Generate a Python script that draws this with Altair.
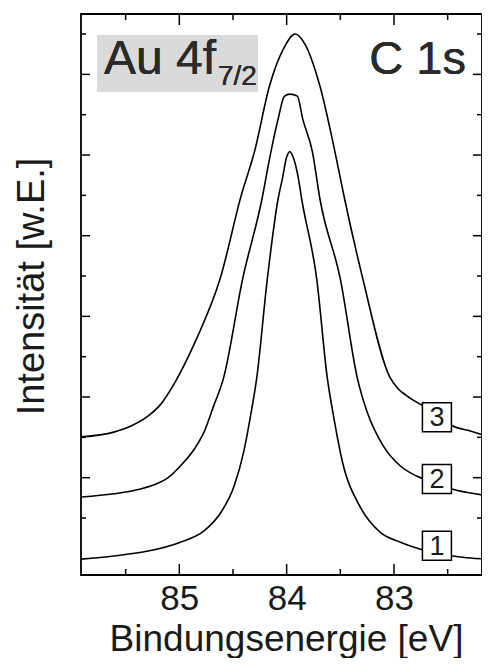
import altair as alt
import pandas as pd

# ---- data (binding energy in eV, intensity in arbitrary units) ----
c1_ev = [85.92, 85.61, 85.29, 84.99, 84.77, 84.61, 84.49, 84.40, 84.33, 84.28, 84.18, 84.08, 84.04, 84.00,
         83.97, 83.94, 83.89, 83.86, 83.72, 83.62, 83.57, 83.48, 83.32, 83.13, 82.94, 82.76, 82.60, 82.45, 82.29, 82.11]
c1_int = [-0.02, 0.06, 0.18, 0.40, 0.68, 1.15, 1.79, 2.64, 3.63, 4.45, 6.93, 8.91, 9.41, 9.95,
          10.08, 9.95, 9.41, 8.91, 6.93, 4.45, 3.63, 2.39, 1.30, 0.65, 0.40, 0.23, 0.12, 0.06, 0.01, -0.02]

c2_ev = [85.92, 85.61, 85.36, 85.20, 85.11, 84.99, 84.86, 84.77, 84.68, 84.59, 84.41, 84.23, 84.16, 84.08,
         84.02, 83.97, 83.90, 83.85, 83.76, 83.69, 83.50, 83.34, 83.25, 83.10, 82.94, 82.79, 82.60, 82.46, 82.29, 82.11]
c2_int = [1.52, 1.60, 1.72, 1.86, 1.99, 2.29, 2.71, 3.13, 3.78, 4.45, 6.93, 8.91, 9.90, 10.89,
          11.46, 11.51, 11.46, 10.89, 10.08, 8.91, 6.93, 4.45, 3.63, 2.79, 2.29, 2.04, 1.87, 1.72, 1.62, 1.55]

c3_ev = [85.92, 85.61, 85.45, 85.29, 85.17, 85.05, 84.84, 84.62, 84.42, 84.30, 84.16, 84.03, 83.92,
         83.83, 83.69, 83.55, 83.46, 83.29, 83.04, 82.96, 82.88, 82.73, 82.60, 82.45, 82.29, 82.11]
c3_int = [3.01, 3.13, 3.28, 3.53, 3.83, 4.32, 5.44, 6.93, 9.03, 10.08, 11.71, 12.63, 13.00,
          12.75, 11.71, 10.08, 8.91, 6.93, 4.50, 4.20, 4.03, 3.78, 3.58, 3.28, 3.16, 3.01]

label_names = ["1", "2", "3"]
label_ev = [82.60, 82.60, 82.60]
label_int = [0.31, 1.97, 3.50]

x_major = [83, 84, 85]
x_minor = [82.5, 83.5, 84.5, 85.5]
y_major = [2, 4, 6, 8, 10, 12]
y_minor = [1, 3, 5, 7, 9, 11, 13]

X_DOMAIN = [82.18, 85.916]
Y_DOMAIN = [-0.413, 13.497]

W, H = 401, 561
FONT = "Liberation Sans"
INK = "#1a1a1a"

curves = pd.concat([
    pd.DataFrame({"ev": c1_ev, "int": c1_int, "curve": "1", "order": range(len(c1_ev))}),
    pd.DataFrame({"ev": c2_ev, "int": c2_int, "curve": "2", "order": range(len(c2_ev))}),
    pd.DataFrame({"ev": c3_ev, "int": c3_int, "curve": "3", "order": range(len(c3_ev))}),
])
labels = pd.DataFrame({"name": label_names, "ev": label_ev, "int": label_int})

xs = alt.Scale(domain=X_DOMAIN, reverse=True, nice=False, zero=False)
ys = alt.Scale(domain=Y_DOMAIN, nice=False, zero=False)

x_axis = alt.Axis(values=x_major, format="d", ticks=False, tickSize=0, domain=False, grid=False,
                  labelFontSize=35, labelFont=FONT, labelColor=INK, labelPadding=6,
                  title="Bindungsenergie [eV]", titleFontSize=37, titleFont=FONT,
                  titleFontWeight="normal", titleColor=INK, titlePadding=5, titleX=205)
y_axis = alt.Axis(ticks=False, tickSize=0, labels=False, domain=False, grid=False,
                  title="Intensität [w.E.]", titleFontSize=38, titleFont=FONT,
                  titleFontWeight="normal", titleColor=INK, titlePadding=30, titleY=272)

lines = alt.Chart(curves).mark_line(color="black", strokeWidth=1.6, interpolate="monotone", clip=True).encode(
    x=alt.X("ev:Q", scale=xs, axis=x_axis),
    y=alt.Y("int:Q", scale=ys, axis=y_axis),
    detail="curve:N",
    order="order:Q",
)

def xticks(vals, length):
    df = pd.DataFrame({"v": vals})
    bottom = alt.Chart(df).mark_rule(color="black", strokeWidth=1.5).encode(
        x=alt.X("v:Q", scale=xs), y=alt.value(H), y2=alt.value(H - length))
    top = alt.Chart(df).mark_rule(color="black", strokeWidth=1.5).encode(
        x=alt.X("v:Q", scale=xs), y=alt.value(0), y2=alt.value(length))
    return [bottom, top]

def yticks(vals, length):
    df = pd.DataFrame({"v": vals})
    left = alt.Chart(df).mark_rule(color="black", strokeWidth=1.5).encode(
        y=alt.Y("v:Q", scale=ys), x=alt.value(0), x2=alt.value(length))
    right = alt.Chart(df).mark_rule(color="black", strokeWidth=1.5).encode(
        y=alt.Y("v:Q", scale=ys), x=alt.value(W), x2=alt.value(W - length))
    return [left, right]

boxes = alt.Chart(labels).mark_square(size=841, fill="white", stroke="black", strokeWidth=1.5, opacity=1).encode(
    x=alt.X("ev:Q", scale=xs), y=alt.Y("int:Q", scale=ys))
box_text = alt.Chart(labels).mark_text(fontSize=27, font=FONT, color=INK, baseline="middle", align="center", dy=1).encode(
    x=alt.X("ev:Q", scale=xs), y=alt.Y("int:Q", scale=ys), text="name:N")

anno_bg = alt.Chart(labels).mark_rect(color="#dadada").encode(
    x=alt.value(16), x2=alt.value(177), y=alt.value(21), y2=alt.value(78))
anno_au = alt.Chart(labels).mark_text(fontSize=48, font=FONT, color="#2a2a2a", align="left", baseline="alphabetic").encode(
    x=alt.value(23), y=alt.value(60), text=alt.value("Au 4f"))
anno_sub = alt.Chart(labels).mark_text(fontSize=28, font=FONT, color="#2a2a2a", align="left", baseline="alphabetic").encode(
    x=alt.value(137), y=alt.value(71), text=alt.value("7/2"))
anno_c = alt.Chart(labels).mark_text(fontSize=47, font=FONT, color="#2a2a2a", align="right", baseline="alphabetic").encode(
    x=alt.value(385), y=alt.value(60), text=alt.value("C 1s"))

layers = [lines] + xticks(x_major, 11) + xticks(x_minor, 6) + yticks(y_major, 9) + yticks(y_minor, 5) + \
         [boxes, box_text, anno_bg, anno_au, anno_sub, anno_c]

chart = alt.layer(*layers).properties(
    width=W, height=H,
    autosize=alt.AutoSizeParams(type="none"),
    padding={"left": 73, "top": 6, "right": 0, "bottom": 83},
    background="white",
).configure_view(stroke="black", strokeWidth=1.8)

chart.save("out.html", embed_options={"renderer": "svg", "actions": False})
